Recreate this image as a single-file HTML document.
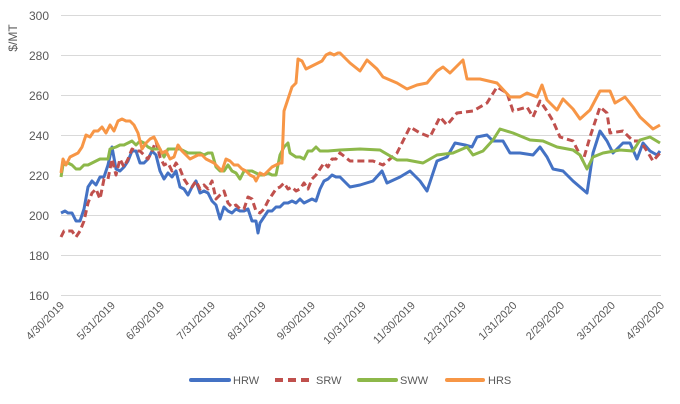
<!DOCTYPE html>
<html><head><meta charset="utf-8"><style>
body{margin:0;background:#fff;}
svg{display:block;font-family:"Liberation Sans",sans-serif;}
</style></head><body>
<svg id="s" width="680" height="404" xmlns="http://www.w3.org/2000/svg">
<g stroke="#d9d9d9" stroke-width="1">
<line x1="61" x2="661" y1="15.5" y2="15.5"/><line x1="61" x2="661" y1="55.5" y2="55.5"/>
<line x1="61" x2="661" y1="95.5" y2="95.5"/><line x1="61" x2="661" y1="135.5" y2="135.5"/>
<line x1="61" x2="661" y1="175.5" y2="175.5"/><line x1="61" x2="661" y1="215.5" y2="215.5"/>
<line x1="61" x2="661" y1="255.5" y2="255.5"/><line x1="61" x2="661" y1="295.5" y2="295.5"/>
</g>
<g fill="#595959" font-size="12" text-anchor="end">
<text x="49" y="20">300</text><text x="49" y="60">280</text><text x="49" y="100">260</text>
<text x="49" y="140">240</text><text x="49" y="180">220</text><text x="49" y="220">200</text>
<text x="49" y="260">180</text><text x="49" y="300">160</text>
</g>
<text transform="translate(17,38) rotate(-90)" fill="#595959" font-size="12" text-anchor="middle">$/MT</text>
<g id="xl" fill="#595959" font-size="11" text-anchor="end"></g>
<g id="ser" fill="none" stroke-width="3" stroke-linejoin="round"></g>
<g font-size="11" fill="#595959">
<line x1="191" x2="229" y1="380" y2="380" stroke="#4472c4" stroke-width="4" stroke-linecap="round"/><text x="233" y="384">HRW</text>
<line x1="275" x2="311" y1="380" y2="380" stroke="#c0504d" stroke-width="4" stroke-dasharray="8,5"/><text x="316" y="384">SRW</text>
<line x1="359" x2="396" y1="380" y2="380" stroke="#8db84a" stroke-width="4" stroke-linecap="round"/><text x="400" y="384">SWW</text>
<line x1="447" x2="483" y1="380" y2="380" stroke="#f79646" stroke-width="4" stroke-linecap="round"/><text x="488" y="384">HRS</text>
</g>
</svg>
<script>
var NS="http://www.w3.org/2000/svg";
var labs=["4/30/2019","5/31/2019","6/30/2019","7/31/2019","8/31/2019","9/30/2019","10/31/2019","11/30/2019","12/31/2019","1/31/2020","2/29/2020","3/31/2020","4/30/2020"];
var days=[0,31,61,92,123,153,184,214,245,276,305,336,366];
var xl=document.getElementById("xl");
labs.forEach(function(l,i){var x=61+days[i]/366*600+4;var t=document.createElementNS(NS,"text");
t.setAttribute("transform","translate("+x+",306) rotate(-45)");t.textContent=l;xl.appendChild(t);});
function Y(v){return 295-(v-160)*2;}
var S={
hrw:["#4472c4","",[61,201,65,202,68,201,72,201,76,197,80,197,84,203,88,214,92,217,96,215,100,219,104,219,108,225,112,234,116,223,120,222,124,224,128,227,132,232,136,232,140,226,144,226,148,228,152,232,156,230,160,222,164,218,168,221,172,219,176,222,180,214,184,213,188,210,192,214,196,217,200,211,204,212,208,211,212,207,216,205,220,198,224,204,228,202,232,201,236,203,240,202,244,202,248,203,252,197,256,197,258,191,260,196,264,199,268,202,272,202,276,204,280,204,284,206,288,206,292,207,296,206,300,208,304,206,308,207,312,208,316,207,320,213,324,217,328,218,332,220,336,219,340,219,350,214,360,215,373,217,382,222,387,216,400,219,410,222,420,217,427,212,437,227,447,229,455,236,465,235,472,234,477,239,487,240,493,237,503,237,510,231,520,231,533,230,540,234,547,229,553,223,563,222,573,217,580,214,587,211,593,231,600,242,607,237,613,231,623,236,630,236,637,228,643,236,650,232,657,230,660,232]],
srw:["#c0504d","7,4",[61,189,64,192,68,192,72,192,76,189,80,192,84,197,88,206,92,211,96,213,100,208,104,218,108,218,112,228,116,220,120,228,124,224,128,228,132,233,136,232,140,232,144,230,148,228,152,232,156,237,160,229,164,225,168,226,172,222,176,226,180,223,184,218,188,215,192,214,196,217,200,213,204,215,208,213,212,217,216,208,220,210,224,212,228,206,232,204,236,205,240,203,244,203,248,209,252,208,256,202,260,201,264,203,268,207,272,210,276,213,280,214,284,216,288,213,292,214,296,212,300,213,304,216,308,213,312,218,316,220,320,223,324,226,328,224,332,228,336,228,340,231,350,227,373,227,383,225,397,231,410,244,420,241,430,239,440,249,447,245,457,251,473,252,487,256,497,264,507,261,513,252,527,254,533,249,540,257,547,252,553,247,560,239,573,237,583,227,590,239,600,254,607,251,610,241,623,242,633,237,640,237,647,232,653,227,660,231]],
sww:["#8db84a","",[61,219,63,225,68,226,72,225,76,223,80,223,84,225,88,225,92,226,96,227,100,228,104,228,108,228,110,233,116,234,120,235,124,235,128,236,132,237,136,235,140,237,144,236,148,234,152,233,156,233,160,233,164,229,168,233,172,233,176,233,180,233,184,232,188,231,192,231,196,231,200,231,204,230,208,231,212,231,216,224,220,222,224,222,228,225,232,222,236,221,240,218,244,222,248,222,252,222,256,221,260,220,264,220,268,221,272,220,276,220,280,230,284,234,288,236,290,231,296,229,300,229,304,228,308,232,312,232,316,234,320,232,328,232,340,232.5,360,233,380,232.5,397,227.5,407,227.5,423,226,437,230,453,231,467,234,473,230,483,232,493,237.5,500,243,513,241,530,237.5,543,237,557,234,573,232.5,580,230,587,223,593,229,603,231,620,232.5,633,232,640,237.5,650,239,660,236]],
hrs:["#f79646","",[61,221,63,228,66,225,70,229,74,230,78,231,82,234,86,240,90,239,94,242,98,242,102,244,106,241,110,245,114,242,118,247,122,248,126,247,130,247,134,245,138,241,142,233,146,236,150,238,154,239,158,235,162,231,166,232,170,228,174,229,178,235,182,232,186,230,190,228,194,229,198,230,202,230,206,228,210,227,214,226,218,224,222,222,226,228,230,227,234,225,238,225,242,223,246,222,250,220,254,219,256,217,260,221,264,220,268,222,272,224,276,225,280,226,282,226,284,252,288,258,292,264,296,266,298,278,302,277,306,273,310,274,314,275,318,276,322,277,326,280,330,281,334,280,338,281,340,281,350,276,360,272,367,277.5,377,273,383,269,397,266,407,263,417,265,427,266,437,272,443,274,450,271,463,277.5,467,268,480,268,497,266,510,259,520,259,527,261,537,259,542,265,547,257.5,557,252.5,563,258,573,253,580,248,590,252.5,600,262,610,262,615,256,625,259,633,254,640,249,653,243,660,245]]};
var g=document.getElementById("ser");
["hrw","srw","sww","hrs"].forEach(function(k){var s=S[k],a=s[2],p=[];
for(var i=0;i<a.length;i+=2)p.push(a[i]+","+Y(a[i+1]).toFixed(1));
var e=document.createElementNS(NS,"polyline");e.setAttribute("points",p.join(" "));e.setAttribute("stroke",s[0]);
if(s[1])e.setAttribute("stroke-dasharray",s[1]);g.appendChild(e);});
</script>
</body></html>
